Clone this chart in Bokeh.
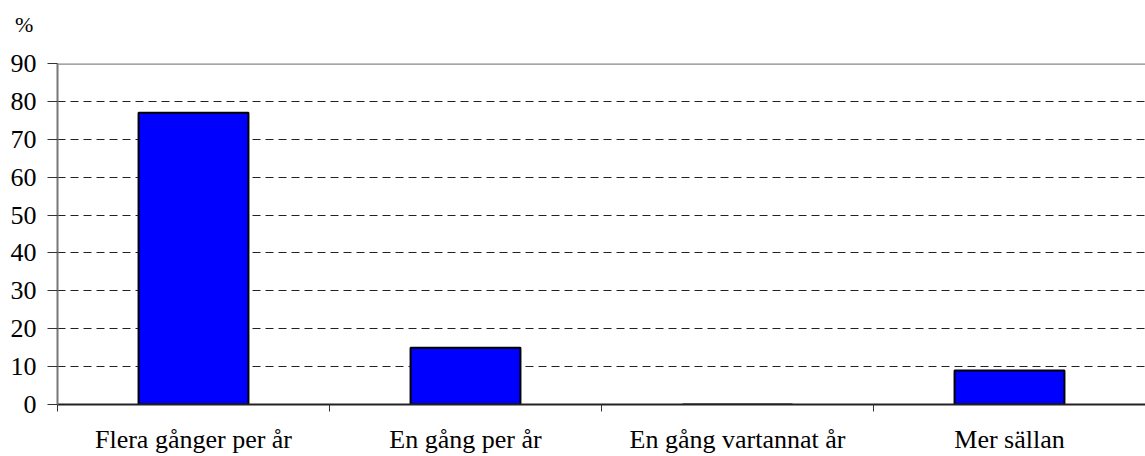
from bokeh.plotting import figure
from bokeh.layouts import column
from bokeh.models import Range1d, FixedTicker, Span, Div, ColumnDataSource
from bokeh.embed import file_html
from bokeh.resources import INLINE

categories = ["Flera gånger per år", "En gång per år", "En gång vartannat år", "Mer sällan"]
values = [77, 15, 0, 9]
y_ticks = [0, 10, 20, 30, 40, 50, 60, 70, 80, 90]
unit_label = "%"

FONT = "Liberation Serif"

xs = [i + 0.5 for i in range(len(categories))]
src = ColumnDataSource(dict(x=xs, top=values))

p = figure(width=1145, height=416, output_backend="svg", toolbar_location=None,
           x_range=Range1d(0, len(categories)), y_range=Range1d(0, 90),
           min_border_left=57, min_border_right=0, min_border_top=23, min_border_bottom=51)
p.outline_line_color = None
p.background_fill_color = "white"
p.border_fill_color = "white"

p.vbar(x="x", top="top", width=0.404, source=src, fill_color="#0000FF",
       line_color="black", line_width=2)

# x axis
p.xaxis.ticker = FixedTicker(ticks=xs, minor_ticks=list(range(len(categories) + 1)))
p.xaxis.major_label_overrides = {x: c for x, c in zip(xs, categories)}
p.xaxis.major_tick_out = 0
p.xaxis.major_tick_in = 0
p.xaxis.minor_tick_out = 7
p.xaxis.minor_tick_in = 0
p.xaxis.minor_tick_line_color = "#333333"
p.xaxis.axis_line_color = "#222222"
p.xaxis.axis_line_width = 2
p.xaxis.major_label_text_font = FONT
p.xaxis.major_label_text_font_size = "26px"
p.xaxis.major_label_text_color = "black"
p.xaxis.major_label_standoff = 13

# y axis
p.yaxis.ticker = FixedTicker(ticks=y_ticks)
p.yaxis.minor_tick_line_color = None
p.yaxis.major_tick_out = 10
p.yaxis.major_tick_in = 0
p.yaxis.major_tick_line_color = "#333333"
p.yaxis.axis_line_color = "#777777"
p.yaxis.axis_line_width = 2
p.yaxis.major_label_text_font = FONT
p.yaxis.major_label_text_font_size = "26px"
p.yaxis.major_label_text_color = "black"
p.yaxis.major_label_standoff = 11

p.xgrid.grid_line_color = None
p.ygrid.grid_line_color = "#222222"
p.ygrid.grid_line_dash = "8 5"
p.ygrid.grid_line_width = 1

p.add_layout(Span(location=90, dimension="width", line_color="#888888", line_width=2.5))

unit_div = Div(text=unit_label, width=1145, height=40, margin=0,
               styles={"font-family": FONT, "font-size": "22px", "line-height": "22px",
                       "padding-left": "15px", "padding-top": "14px", "color": "black",
                       "box-sizing": "border-box"})

layout = column(unit_div, p, spacing=0, margin=0)

open("out.html", "w").write(file_html(layout, INLINE))
